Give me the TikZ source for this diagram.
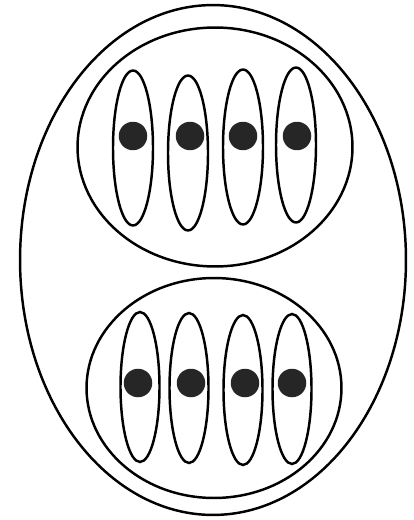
\documentclass[tikz,border=0pt]{standalone}
\usepackage{tikz}
\usetikzlibrary{shapes,arrows,positioning,calc}

\begin{document}
\begin{tikzpicture}[x=0.02cm, y=-0.02cm,
    cell/.style={draw, ellipse, line width=1.4pt, inner sep=0pt},
    spindle/.style={cell, minimum width=0.8cm, minimum height=3.1cm},
    kernel/.style={circle, fill=black!85, inner sep=0pt, minimum size=0.57cm}]
    \useasboundingbox (0,0) rectangle (413,520);
    \fill[white] (0,0) rectangle (413,520);

    \node[cell, minimum width=7.72cm, minimum height=10.2cm] (whole) at (213,260) {};
    \node[cell, minimum width=5.5cm, minimum height=4.78cm] (upper) at (215,147) {};
    \node[cell, minimum width=5.1cm, minimum height=4.4cm] (lower) at (214,388) {};

    % upper group
    \foreach \i/\x/\y/\dx in {1/133/148/133, 2/188/153/190, 3/243/147/243, 4/296/145/297} {
        \node[spindle] (up\i) at (\x,\y) {};
        \node[kernel] (upk\i) at (\dx,136) {};
    }
    % lower group
    \foreach \i/\x/\y/\dx in {1/140/387/138, 2/189/388/191, 3/243/390/245, 4/292/389/292} {
        \node[spindle, minimum width=0.78cm, minimum height=3.0cm] (lo\i) at (\x,\y) {};
        \node[kernel] (lok\i) at (\dx,383) {};
    }
\end{tikzpicture}
\end{document}
